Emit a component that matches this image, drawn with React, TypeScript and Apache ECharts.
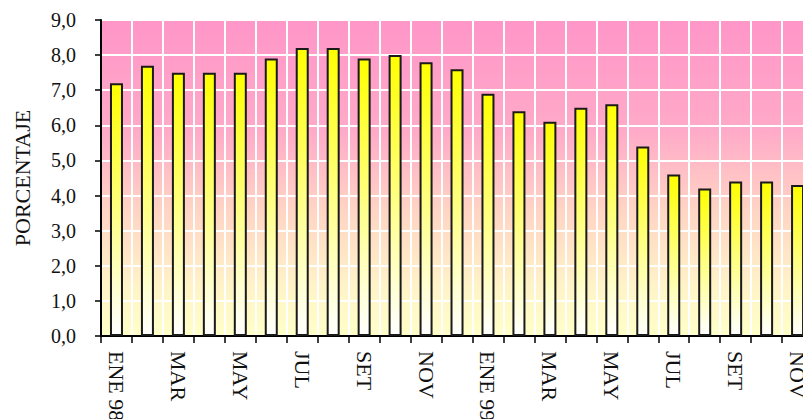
import React, { useEffect, useRef } from "react";
import * as echarts from "echarts";

const categories = [
  "ENE 98", "FEB", "MAR", "ABR", "MAY", "JUN", "JUL", "AGO", "SET", "OCT", "NOV", "DIC",
  "ENE 99", "FEB", "MAR", "ABR", "MAY", "JUN", "JUL", "AGO", "SET", "OCT", "NOV", "DIC",
];
const values: (number | null)[] = [
  7.2, 7.7, 7.5, 7.5, 7.5, 7.9, 8.2, 8.2, 7.9, 8.0, 7.8, 7.6,
  6.9, 6.4, 6.1, 6.5, 6.6, 5.4, 4.6, 4.2, 4.4, 4.4, 4.3, null,
];
const yTicks = [0, 1, 2, 3, 4, 5, 6, 7, 8, 9];

export default function App() {
  const ref = useRef<HTMLDivElement>(null);
  useEffect(() => {
    if (!ref.current) return;
    const chart = echarts.init(ref.current, undefined, { renderer: "svg" });
    const font = "'Liberation Serif', 'Times New Roman', serif";
    chart.setOption({
      animation: false,
      backgroundColor: "#ffffff",
      grid: {
        left: 101,
        top: 20,
        width: 743,
        height: 316,
        outerBoundsMode: "none",
        containLabel: false,
        show: true,
        borderColor: "#9a9a9a",
        borderWidth: 1.5,
        backgroundColor: new echarts.graphic.LinearGradient(0, 0, 0, 1, [
          { offset: 0, color: "#ff96c8" },
          { offset: 0.35, color: "#ffaac8" },
          { offset: 0.6, color: "#ffd4c4" },
          { offset: 0.85, color: "#fff4c8" },
          { offset: 1, color: "#ffffc8" },
        ]),
      },
      xAxis: {
        type: "category",
        data: categories,
        boundaryGap: true,
        axisLine: { lineStyle: { color: "#000", width: 2 } },
        axisTick: { show: true, interval: 0, length: 7, lineStyle: { color: "#000", width: 1.5 } },
        axisLabel: {
          interval: 1,
          rotate: -90,
          margin: 15,
          color: "#111",
          fontFamily: font,
          fontSize: 22,
        },
        splitLine: { show: true, interval: 0, lineStyle: { color: "#ffffff", width: 2 } },
      },
      yAxis: {
        type: "value",
        min: yTicks[0],
        max: yTicks[yTicks.length - 1],
        interval: 1,
        name: "PORCENTAJE",
        nameLocation: "middle",
        nameGap: 68,
        nameRotate: 90,
        nameTextStyle: { color: "#111", fontFamily: font, fontSize: 22 },
        axisLine: { show: true, lineStyle: { color: "#000", width: 2 } },
        axisTick: { show: true, length: 6, lineStyle: { color: "#000", width: 1.5 } },
        axisLabel: {
          margin: 25,
          color: "#111",
          fontFamily: font,
          fontSize: 20,
          formatter: (v: number) => v.toFixed(1).replace(".", ","),
        },
        splitLine: { show: true, lineStyle: { color: "#ffffff", width: 2 } },
      },
      series: [
        {
          type: "bar",
          data: values,
          barWidth: 13,
          itemStyle: {
            color: new echarts.graphic.LinearGradient(0, 0, 0, 1, [
              { offset: 0, color: "#ffff00" },
              { offset: 0.5, color: "#ffff80" },
              { offset: 1, color: "#ffffff" },
            ]),
            borderColor: "#1a1a1a",
            borderWidth: 2,
          },
        },
      ],
    });
    return () => chart.dispose();
  }, []);
  return (
    <div
      ref={ref}
      style={{ position: "fixed", left: 0, top: 0, width: 803, height: 419 }}
    />
  );
}
